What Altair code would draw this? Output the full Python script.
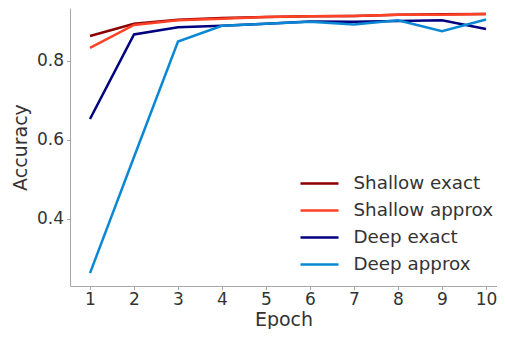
import altair as alt
import pandas as pd

epochs = [1, 2, 3, 4, 5, 6, 7, 8, 9, 10]
series_names = ["Shallow exact", "Shallow approx", "Deep exact", "Deep approx"]
shallow_exact = [0.863, 0.894, 0.904, 0.909, 0.911, 0.913, 0.914, 0.917, 0.918, 0.919]
shallow_approx = [0.833, 0.891, 0.903, 0.907, 0.911, 0.913, 0.914, 0.917, 0.917, 0.919]
deep_exact = [0.653, 0.867, 0.885, 0.889, 0.894, 0.900, 0.899, 0.901, 0.903, 0.881]
deep_approx = [0.263, 0.557, 0.849, 0.889, 0.894, 0.899, 0.892, 0.903, 0.875, 0.905]
colors = ["#8b0000", "#ff4125", "#000080", "#0a88d4"]

rows = []
for name, vals in zip(series_names, [shallow_exact, shallow_approx, deep_exact, deep_approx]):
    for e, v in zip(epochs, vals):
        rows.append({"Epoch": e, "Accuracy": v, "Series": name})
df = pd.DataFrame(rows)

FONT = "DejaVu Sans"
TXT = "#333333"
GREY = "#a8a8a8"

chart = alt.Chart(df).mark_line(strokeWidth=2.5).encode(
    x=alt.X("Epoch:Q",
            scale=alt.Scale(domain=[0.5455, 10.25], nice=False, zero=False),
            axis=alt.Axis(values=epochs, format="d", grid=False, tickSize=3.5,
                          labelFontSize=17, titleFontSize=19, labelPadding=2,
                          titlePadding=3, labelFlush=False)),
    y=alt.Y("Accuracy:Q",
            scale=alt.Scale(domain=[0.2304, 0.934], nice=False, zero=False),
            axis=alt.Axis(values=[0.4, 0.6, 0.8], format=".1f", grid=False, tickSize=3.5,
                          labelFontSize=17, titleFontSize=19, labelPadding=3,
                          titlePadding=6)),
    color=alt.Color("Series:N",
                    scale=alt.Scale(domain=series_names, range=colors),
                    sort=series_names,
                    legend=alt.Legend(orient="none", legendX=238, legendY=164,
                                      title=None, symbolType="M-1.9,0H1.9",
                                      symbolSize=400, symbolStrokeWidth=2.5,
                                      labelFontSize=18.3, labelOffset=22.5,
                                      rowPadding=7, padding=0)),
).properties(
    width=427,
    height=278,
    autosize=alt.AutoSizeParams(type="none"),
    padding={"left": 62, "top": 0, "right": 0, "bottom": 43},
).configure_view(
    stroke=None
).configure_axis(
    labelFont=FONT, titleFont=FONT, labelColor=TXT, titleColor=TXT,
    domainColor=GREY, tickColor=GREY, titleFontWeight="normal",
).configure_legend(
    labelFont=FONT, labelColor=TXT,
)

chart.save("out.html", embed_options={"renderer": "svg", "actions": False})
